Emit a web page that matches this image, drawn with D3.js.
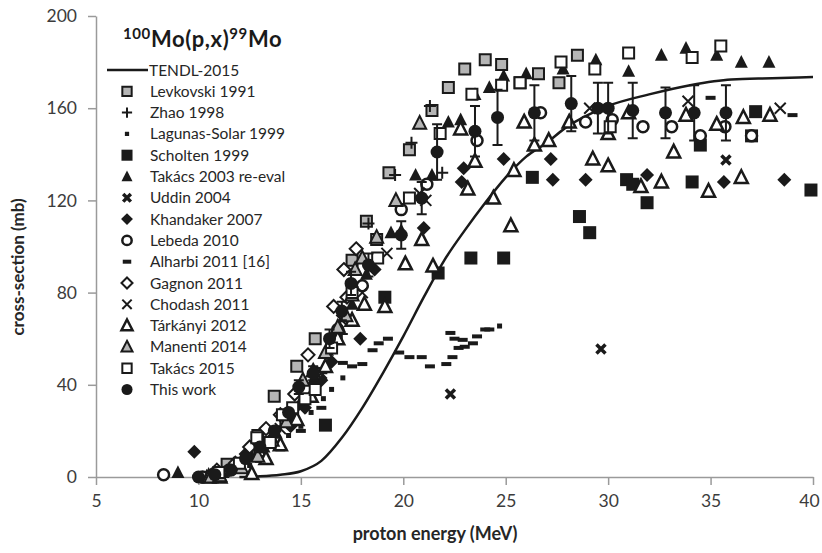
<!DOCTYPE html>
<html>
<head>
<meta charset="utf-8">
<script src="https://cdn.jsdelivr.net/npm/d3@7"></script>
<style>
  body { margin: 0; background: #fff; }
  svg { display: block; font-family: Lato, "Open Sans", sans-serif; }
</style>
</head>
<body>
<svg id="chart" width="822" height="553"></svg>
<script>
// axis ticks
const xTicks = [5, 10, 15, 20, 25, 30, 35, 40];
const yTicks = [0, 40, 80, 120, 160, 200];

// TENDL-2015 curve [MeV, mb]
const tendl = [[12,0],[13,0.3],[14,1],[15,2.5],[16,7],[17,17],[18,30],[19,45],[20,61],[21,78],[22,94],[23,107],[24,119],[25,130],[26,139],[27,145],[28,152],[29,157],[30,161],[32,166],[34,170],[36,172.5],[38,173],[40,173.5]];

// experimental data [MeV, mb]
const levkovski = [[11.4,5.5],[12.9,18],[13.7,35],[14.8,48],[15.7,60],[17.5,94],[18.2,111],[18.7,103],[19.3,132],[20.3,142],[21.4,159],[22.2,169],[23.0,177],[24.0,181],[24.8,179],[25.7,171],[26.6,175],[27.6,171],[28.5,183]];
const zhao = [[13.0,12],[14.0,22],[15.0,32],[16.0,45],[17.0,62],[18.3,110],[19.6,131],[20.4,145],[21.3,161],[21.9,132]];
const lagunas = [[12.5,5],[13.3,9],[13.9,14],[14.4,18],[15.0,22],[15.5,28],[16.1,34],[16.5,38],[17.05,43],[24.7,65.5]];
const scholten = [[16.2,22.5],[19.1,78],[21.7,88.5],[23.3,95],[24.9,95],[26.3,130],[28.6,113],[29.1,106],[30.9,129],[31.2,127],[31.9,119],[34.1,128],[34.5,144],[37.0,148],[37.2,158.5],[39.9,124.5]];
const takacs2003 = [[9.0,2],[10.4,0.5],[11.2,2],[12.0,5],[12.6,9],[13.2,13],[13.8,19],[14.4,26],[15.0,33],[15.6,42],[16.3,55],[16.9,65],[17.5,75],[18.2,88],[19.4,106],[19.9,107],[20.6,131],[21.4,131],[22.2,154],[22.8,155],[23.5,166],[24.2,169],[24.9,174],[26.0,175],[27.8,177],[29.4,181],[31.0,176],[32.6,183],[33.8,186],[35.3,183],[36.5,180],[37.85,180]];
const uddin = [[22.3,36],[29.65,55.5],[35.75,137.5]];
const khandaker = [[9.8,11],[11.5,3],[12.3,10],[13.5,16],[14.5,22],[15.2,30],[16.0,42],[16.5,50],[17.9,60],[18.6,90],[21.0,108],[22.85,128],[22.95,134],[24.9,138],[27.2,138],[27.3,129],[28.9,129],[31.9,131],[35.65,128],[38.6,129]];
const lebeda = [[8.3,1],[10.2,0],[11.5,3],[13.0,11],[14.5,28],[15.8,45],[16.8,64],[18.0,83],[19.9,116],[21.15,127],[23.6,146],[26.7,158],[28.9,154],[30.2,155],[31.7,152],[33.1,152],[34.5,148],[35.7,152],[37.0,148]];
const alharbi = [[13.0,7],[14.0,12],[15.0,20],[16.0,30],[17.05,49.5],[17.5,48],[18.0,49],[18.5,55],[18.8,58],[19.25,60],[19.8,54],[20.3,52],[20.9,52],[21.3,48],[22.1,49],[22.4,52],[22.3,62.5],[22.5,60],[22.7,56],[22.9,59.5],[23.0,56.5],[23.4,58],[23.6,61],[24.0,64],[24.2,64],[35.0,164.5],[39.0,157]];
const gagnon = [[10.9,3],[11.8,6],[12.5,13],[13.3,21],[14.0,27],[14.7,36],[15.35,53],[16.6,74],[17.25,78],[17.1,90],[17.7,99]];
const chodash = [[12.0,5],[13.0,12],[14.0,21],[15.0,30],[16.0,45],[17.0,68],[18.0,80],[19.2,97],[20.8,123],[21.1,120],[29.1,160],[33.9,163],[38.4,160]];
const tarkanyi = [[10.5,0],[11.05,0],[12.6,1.5],[13.3,8],[14.0,14],[14.8,25],[15.5,35],[16.2,48],[16.8,60],[17.5,68],[18.1,75],[19.1,74],[20.1,92.5],[20.9,103],[21.45,91.5],[22.8,151],[23.15,125],[23.5,137],[24.4,121],[25.25,109],[25.4,133],[25.9,154],[26.4,144],[27.1,146],[28.1,154],[29.25,138],[30.0,135],[30.0,149],[31.0,158],[31.6,126],[32.6,128],[33.2,141],[33.8,157],[34.9,124],[35.3,153],[36.5,130],[36.6,156],[37.9,157]];
const manenti = [[10.6,0],[11.05,0.5],[12.1,4],[12.9,9],[13.6,16],[14.3,24],[15.1,42],[15.6,46],[16.2,54],[16.8,65],[17.2,70],[17.5,79],[17.65,90],[18.0,95],[18.7,104],[19.64,120],[20.8,153.5]];
const takacs2015 = [[11.0,2],[12.0,6],[12.85,17],[13.5,15],[14.1,27],[14.6,30],[15.2,34],[15.7,38],[16.5,56],[17.5,80],[18.75,95],[20.3,121],[21.8,149],[23.35,166],[24.8,170],[25.7,171],[27.7,180],[29.35,177],[30.1,152],[31.0,184],[34.1,182],[35.5,187]];
const thisWork = [[10.0,0],[10.8,1],[11.6,3],[12.3,8],[13.0,13],[13.7,20],[14.4,28],[14.9,39],[15.6,45],[16.4,60],[17.0,72],[17.45,84],[18.3,92],[19.9,105],[20.9,121],[21.65,141],[23.5,150],[24.6,156],[26.4,158],[28.2,162],[29.5,160],[30.0,160],[31.2,159],[32.8,158],[34.2,158],[35.75,158]];
const thisWorkErr = [0,0,0,1,1,2,2,3,3,4,4,5,5,6,7,12,11,12,12,12,11,11,12,11,12,12];

const svg = d3.select("#chart");
const ink = "#1a1a1a";

const x = d3.scaleLinear().domain([5, 40]).range([96, 813]);
const y = d3.scaleLinear().domain([0, 200]).range([477, 16]);

// marker shapes as path strings, s = half size
const shapes = {
  square: s => `M${-s},${-s}h${2*s}v${2*s}h${-2*s}Z`,
  triangle: s => `M0,${-s*1.1}L${s},${s*0.85}L${-s},${s*0.85}Z`,
  diamond: s => `M0,${-s}L${s},0L0,${s}L${-s},0Z`,
  circle: s => `M${s},0A${s},${s} 0 1,1 ${-s},0A${s},${s} 0 1,1 ${s},0Z`,
  plus: s => `M${-s},0H${s}M0,${-s}V${s}`,
  cross: s => `M${-s},${-s}L${s},${s}M${-s},${s}L${s},${-s}`,
  dash: s => `M${-s},-2h${2*s}v4h${-2*s}Z`
};

const series = [
  { name: "Levkovski 1991", data: levkovski, shape: "square", s: 5.5, fill: "#b5b5b5", sw: 2 },
  { name: "Zhao 1998", data: zhao, shape: "plus", s: 6, fill: "none", sw: 2 },
  { name: "Lagunas-Solar 1999", data: lagunas, shape: "square", s: 2.5, fill: ink, sw: 0 },
  { name: "Scholten 1999", data: scholten, shape: "square", s: 6.5, fill: ink, sw: 0 },
  { name: "Takács 2003 re-eval", data: takacs2003, shape: "triangle", s: 6.5, fill: ink, sw: 0 },
  { name: "Uddin 2004", data: uddin, shape: "cross", s: 4.5, fill: "none", sw: 3.5 },
  { name: "Khandaker 2007", data: khandaker, shape: "diamond", s: 7, fill: ink, sw: 0 },
  { name: "Lebeda 2010", data: lebeda, shape: "circle", s: 5.5, fill: "#fff", sw: 2.5 },
  { name: "Alharbi 2011 [16]", data: alharbi, shape: "dash", s: 5, fill: ink, sw: 0 },
  { name: "Gagnon 2011", data: gagnon, shape: "diamond", s: 6.5, fill: "#fff", sw: 2 },
  { name: "Chodash 2011", data: chodash, shape: "cross", s: 5.5, fill: "none", sw: 2 },
  { name: "Tárkányi 2012", data: tarkanyi, shape: "triangle", s: 6.5, fill: "#fff", sw: 2.5 },
  { name: "Manenti 2014", data: manenti, shape: "triangle", s: 6.5, fill: "#b5b5b5", sw: 2 },
  { name: "Takács 2015", data: takacs2015, shape: "square", s: 5.5, fill: "#fff", sw: 2 },
  { name: "This work", data: thisWork, shape: "circle", s: 6.5, fill: ink, sw: 0 }
];

// axes
const xAxis = svg.append("g")
  .attr("transform", `translate(0,${y(0)})`)
  .call(d3.axisBottom(x).tickValues(xTicks).tickSize(8).tickSizeOuter(0).tickPadding(10));
const yAxis = svg.append("g")
  .attr("transform", `translate(${x(5)},0)`)
  .call(d3.axisLeft(y).tickValues(yTicks).tickSize(8).tickSizeOuter(0).tickPadding(11));
[xAxis, yAxis].forEach(g => {
  g.selectAll("path, line").attr("stroke", "#9a9a9a").attr("stroke-width", 1.5);
  g.selectAll("text").attr("fill", "#3c3c3c").style("font-size", "17.5px")
    .style("font-family", "Lato, sans-serif");
});
// keep the last x label inside the window
xAxis.selectAll(".tick text").filter(d => d === 40).attr("dx", -4);

// TENDL curve
const line = d3.line().x(d => x(d[0])).y(d => y(d[1])).curve(d3.curveMonotoneX);
svg.append("path").datum(tendl)
  .attr("d", line).attr("fill", "none").attr("stroke", ink).attr("stroke-width", 2.5);

// markers
series.forEach(sr => {
  const g = svg.append("g");
  if (sr.name === "This work") {
    g.selectAll("path.err").data(sr.data.map((d, i) => [d[0], d[1], thisWorkErr[i]]).filter(d => d[2] > 2))
      .enter().append("path")
      .attr("class", "err")
      .attr("d", d => {
        const cx = x(d[0]), t = y(d[1] + d[2]), b = y(d[1] - d[2]);
        return `M${cx},${t}V${b}M${cx - 5},${t}H${cx + 5}M${cx - 5},${b}H${cx + 5}`;
      })
      .attr("stroke", ink).attr("stroke-width", 2).attr("fill", "none");
  }
  g.selectAll("path.m").data(sr.data).enter().append("path")
    .attr("class", "m")
    .attr("transform", d => `translate(${x(d[0])},${y(d[1])})`)
    .attr("d", shapes[sr.shape](sr.s))
    .attr("fill", sr.fill)
    .attr("stroke", sr.sw ? ink : "none")
    .attr("stroke-width", sr.sw);
});

// title
const title = svg.append("text").attr("x", 123).attr("y", 47)
  .attr("fill", ink).style("font-weight", "bold").style("font-size", "22px")
  .style("letter-spacing", "0.6px");
title.append("tspan").text("100").style("font-size", "15px").attr("dy", -8);
title.append("tspan").text("Mo(p,x)").attr("dy", 8);
title.append("tspan").text("99").style("font-size", "15px").attr("dy", -8);
title.append("tspan").text("Mo").attr("dy", 8);

// legend
const legY0 = 70, legStep = 21.3;
const leg = svg.append("g").style("font-size", "15.5px").attr("fill", "#262626");
leg.append("line").attr("x1", 107).attr("x2", 148).attr("y1", legY0).attr("y2", legY0)
  .attr("stroke", ink).attr("stroke-width", 2.5);
leg.append("text").attr("x", 149).attr("y", legY0 + 5.5).text("TENDL-2015");
series.forEach((sr, i) => {
  const ly = legY0 + legStep * (i + 1);
  leg.append("path")
    .attr("transform", `translate(127,${ly})`)
    .attr("d", shapes[sr.shape](sr.s * 0.85))
    .attr("fill", sr.fill)
    .attr("stroke", sr.sw ? ink : "none")
    .attr("stroke-width", sr.sw);
  leg.append("text").attr("x", 150).attr("y", ly + 5.5).text(sr.name);
});

// axis titles
svg.append("text").attr("x", 435).attr("y", 540).attr("text-anchor", "middle")
  .attr("fill", "#262626").style("font-weight", "bold").style("font-size", "18px")
  .text("proton energy (MeV)");
svg.append("text").attr("transform", "translate(24,267) rotate(-90)").attr("text-anchor", "middle")
  .attr("fill", "#262626").style("font-weight", "bold").style("font-size", "17px")
  .text("cross-section (mb)");
</script>
</body>
</html>
